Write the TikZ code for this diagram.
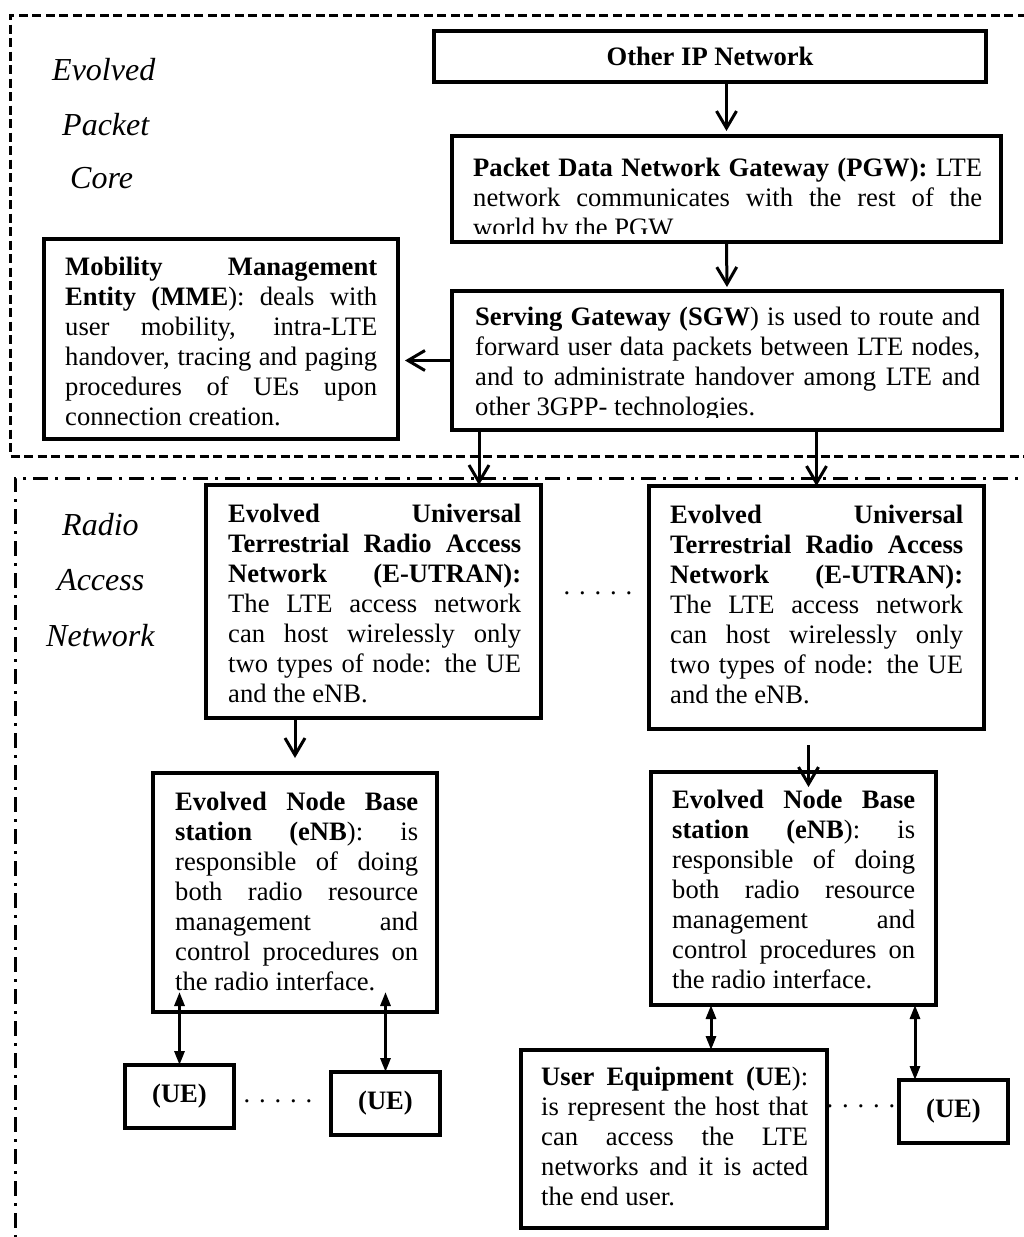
\documentclass[tikz,border=0pt]{standalone}
\usepackage{fontspec}
\setmainfont{Liberation Serif}
\usetikzlibrary{arrows.meta}

\newcommand{\boxfont}{\fontsize{26.6pt}{30pt}\selectfont
  \tolerance=10000 \hbadness=10000 \hyphenpenalty=10000 \exhyphenpenalty=10000}
\newcommand{\sidefont}{\fontsize{32pt}{36pt}\selectfont\itshape}

\tikzset{
  box/.style={draw, line width=3.5pt, fill=white, inner sep=0pt, outer sep=0pt, anchor=north west},
  txt/.style={font=\boxfont, align=justify, inner sep=0pt, anchor=north west},
  side/.style={font=\sidefont, inner sep=0pt, anchor=base west},
  dots/.style={font=\boxfont, inner sep=0pt, anchor=base},
  arr/.style={-{Straight Barb[length=17pt, width=20pt]}, line width=3pt},
  dbl/.style={{Triangle[length=14pt, width=10pt]}-{Triangle[length=14pt, width=10pt]}, line width=3pt},
  epc/.style={line width=3pt, dash pattern=on 9pt off 4.5pt},
  ran/.style={line width=3pt, dash pattern=on 15pt off 7pt on 3pt off 7pt}
}

\begin{document}
\begin{tikzpicture}[x=1pt, y=-1pt]
    \useasboundingbox (0,0) rectangle (1023,1237);

    % areas %
      \draw[epc] (1040,15) -- (10,15) -- (10,456) -- (1040,456);
      \draw[ran] (1040,478) -- (15,478) -- (15,1250);

      \node[side] (evolved) at (52,80) {Evolved};
      \node[side] (packet) at (62,135) {Packet};
      \node[side] (core) at (70,188) {Core};
      \node[side] (radio) at (62,535) {Radio};
      \node[side] (access) at (57,590) {Access};
      \node[side] (network) at (46,646) {Network};

    % nodes %
      \node[box, minimum width=552pt, minimum height=51pt, font=\boxfont\bfseries] (oip) at (434,31) {Other IP Network};

      \node[box, minimum width=549pt, minimum height=106pt] (pgw) at (452,136) {};
      \begin{scope}
        \clip (pgw.north west) rectangle ([yshift=9pt]pgw.south east);
        \node[txt, text width=509pt] (pgwtxt) at ([shift={(21,19)}]pgw.north west)
          {\strut\textbf{Packet Data Network Gateway (PGW):} LTE\linebreak
           network communicates with the rest of the\linebreak
           world by the PGW};
      \end{scope}

      \node[box, minimum width=354pt, minimum height=200pt] (mme) at (44,239) {};
      \node[txt, text width=312pt] (mmetxt) at ([shift={(21,15)}]mme.north west)
        {\strut\textbf{Mobility Management}\linebreak
         \textbf{Entity (MME}): deals with\linebreak
         user mobility, intra-LTE\linebreak
         handover, tracing and paging\linebreak
         procedures of UEs upon\linebreak
         connection creation.};

      \node[box, minimum width=550pt, minimum height=139pt] (sgw) at (452,291) {};
      \begin{scope}
        \clip (sgw.north west) rectangle ([yshift=13pt]sgw.south east);
        \node[txt, text width=505pt] (sgwtxt) at ([shift={(23,13)}]sgw.north west)
          {\strut\textbf{Serving Gateway (SGW}) is used to route and\linebreak
           forward user data packets between LTE nodes,\linebreak
           and to administrate handover among LTE and\linebreak
           other 3GPP- technologies.};
      \end{scope}

      \node[box, minimum width=335pt, minimum height=233pt] (eut1) at (206,485) {};
      \node[txt, text width=293pt] (eut1txt) at ([shift={(22,16)}]eut1.north west)
        {\strut\textbf{Evolved Universal}\linebreak
         \textbf{Terrestrial Radio Access}\linebreak
         \textbf{Network (E-UTRAN):}\linebreak
         The LTE access network\linebreak
         can host wirelessly only\linebreak
         two types of node: the UE\linebreak
         and the eNB.};

      \node[box, minimum width=335pt, minimum height=243pt] (eut2) at (649,486) {};
      \node[txt, text width=293pt] (eut2txt) at ([shift={(21,16)}]eut2.north west)
        {\strut\textbf{Evolved Universal}\linebreak
         \textbf{Terrestrial Radio Access}\linebreak
         \textbf{Network (E-UTRAN):}\linebreak
         The LTE access network\linebreak
         can host wirelessly only\linebreak
         two types of node: the UE\linebreak
         and the eNB.};

      \node[dots] (dots1) at (598,594) {. . . . .};

      \node[box, minimum width=284pt, minimum height=239pt] (enb1) at (153,773) {};
      \node[txt, text width=243pt] (enb1txt) at ([shift={(22,16)}]enb1.north west)
        {\strut\textbf{Evolved Node Base}\linebreak
         \textbf{station (eNB}): is\linebreak
         responsible of doing\linebreak
         both radio resource\linebreak
         management and\linebreak
         control procedures on\linebreak
         the radio interface.};

      \node[box, minimum width=285pt, minimum height=233pt] (enb2) at (651,772) {};
      \node[txt, text width=243pt] (enb2txt) at ([shift={(21,15)}]enb2.north west)
        {\strut\textbf{Evolved Node Base}\linebreak
         \textbf{station (eNB}): is\linebreak
         responsible of doing\linebreak
         both radio resource\linebreak
         management and\linebreak
         control procedures on\linebreak
         the radio interface.};

      \node[box, minimum width=109pt, minimum height=63pt, font=\boxfont\bfseries] (ue1) at (125,1065) {(UE)};
      \node[box, minimum width=109pt, minimum height=63pt, font=\boxfont\bfseries] (ue2) at (331,1072) {(UE)};
      \node[dots] (dots2) at (278,1102) {. . . . .};

      \node[box, minimum width=306pt, minimum height=178pt] (ueb) at (521,1050) {};
      \node[txt, text width=267pt] (uebtxt) at ([shift={(20,14)}]ueb.north west)
        {\strut\textbf{User Equipment (UE}):\linebreak
         is represent the host that\linebreak
         can access the LTE\linebreak
         networks and it is acted\linebreak
         the end user.};

      \node[dots] (dots3) at (861,1107) {. . . . .};
      \node[box, minimum width=109pt, minimum height=63pt, font=\boxfont\bfseries] (ue3) at (899,1080) {(UE)};

    % edges %
      \draw[arr, shorten >=5pt] (oip.south -| pgw.north) -- (pgw.north);
      \draw[arr, shorten >=4pt] (pgw.south) -- (sgw.north);
      \draw[arr, shorten >=7pt] (sgw.west) -- (mme.east |- sgw.west);

      \coordinate (s1) at ([xshift=27pt]sgw.south west);
      \draw[arr] (s1) -- (s1 |- eut1.north);
      \draw[arr] (sgw.south -| eut2.north) -- (eut2.north);

      \draw[arr, shorten >=15pt] (eut1.south -| enb1.north) -- (enb1.north);
      \draw[arr] ([shift={(-8,16)}]eut2.south) -- ([shift={(15,15)}]enb2.north);

      \draw[dbl] (enb1.south -| ue1.north) ++(0,-20) -- (ue1.north);
      \draw[dbl] (enb1.south -| ue2.north) ++(0,-20) -- (ue2.north);

      \coordinate (u0) at ([xshift=37pt]ueb.north);
      \draw[dbl] (u0 |- enb2.south) -- (u0);
      \coordinate (u3) at ([xshift=-21pt]enb2.south east);
      \draw[dbl] (u3) -- (u3 |- ue3.north);
\end{tikzpicture}
\end{document}
